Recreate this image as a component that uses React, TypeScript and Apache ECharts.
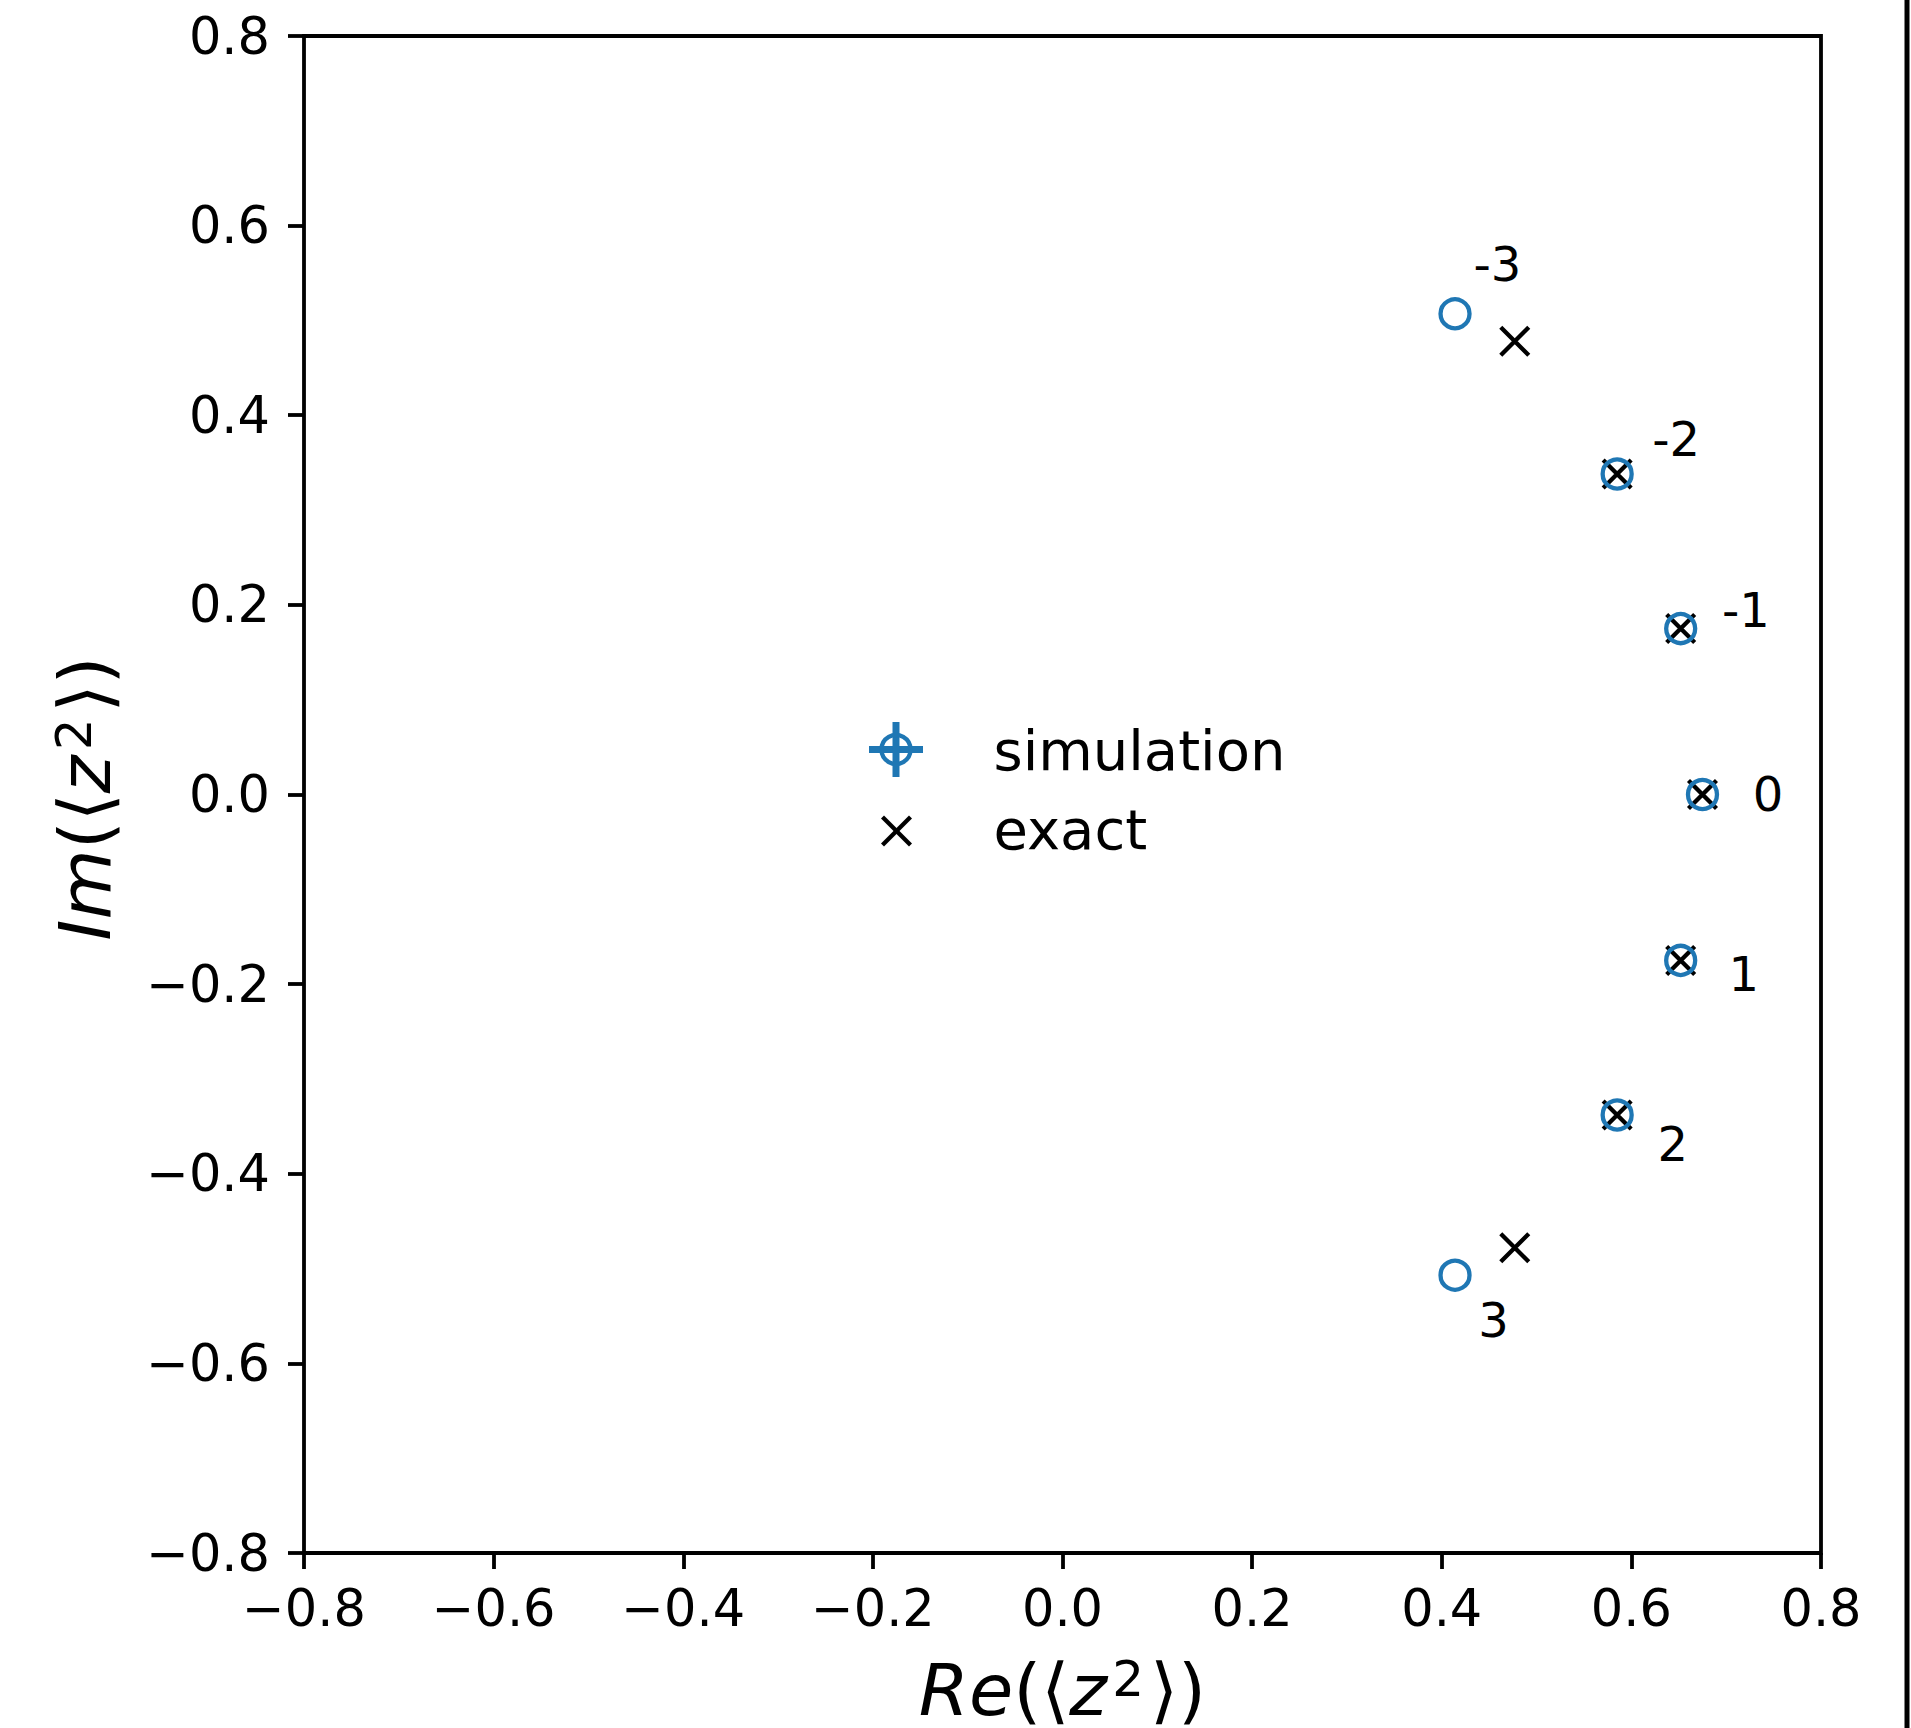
import React, { useEffect, useRef } from "react";
import * as echarts from "echarts";

const FONT = "DejaVu Sans";
const BLUE = "#1f77b4";

// index of each point (used as annotation text)
const pointIndex = [-3, -2, -1, 0, 1, 2, 3];
// simulation values
const simRe = [0.414, 0.585, 0.652, 0.675, 0.652, 0.585, 0.414];
const simIm = [0.507, 0.338, 0.175, 0.0, -0.175, -0.338, -0.507];
// exact values
const exactRe = [0.477, 0.585, 0.652, 0.675, 0.652, 0.585, 0.477];
const exactIm = [0.478, 0.338, 0.175, 0.0, -0.175, -0.338, -0.478];
// annotation anchor positions (data coords)
const labelRe = [0.434, 0.6225, 0.696, 0.7285, 0.703, 0.628, 0.439];
const labelIm = [0.559, 0.374, 0.1945, 0.0, -0.19, -0.369, -0.555];

const axisMin = -0.8;
const axisMax = 0.8;
const axisStep = 0.2;

const legendNames = ["simulation", "exact"];

const fmt = (v: number) => {
  const s = v.toFixed(1);
  if (s === "-0.0") return "0.0";
  return s.replace("-", "\u2212");
};

export default function App() {
  const ref = useRef<HTMLDivElement>(null);
  useEffect(() => {
    document.body.style.margin = "0";
    const chart = echarts.init(ref.current!, null, { renderer: "svg" });
    const axisCommon = {
      type: "value",
      min: axisMin,
      max: axisMax,
      interval: axisStep,
      axisLine: { show: false, onZero: false },
      axisTick: { show: true, inside: false, length: 16, lineStyle: { color: "#000", width: 3.8 } },
      splitLine: { show: false },
    };
    const nameRich = {
      i: { fontStyle: "italic", fontSize: 72, lineHeight: 72, fontFamily: FONT, color: "#000" },
      n: { fontSize: 72, lineHeight: 72, fontFamily: FONT, color: "#000" },
      s: {
        fontSize: 50,
        lineHeight: 32,
        verticalAlign: "top",
        fontFamily: FONT,
        color: "#000",
        padding: [0, 6, 0, 5],
      },
    };
    chart.setOption({
      animation: false,
      grid: {
        left: 304,
        top: 36,
        width: 1517,
        height: 1517,
        show: true,
        borderColor: "#000",
        borderWidth: 3.8,
        backgroundColor: "transparent",
      },
      xAxis: {
        ...axisCommon,
        axisLabel: { margin: 30, fontSize: 51, color: "#000", fontFamily: FONT, formatter: fmt },
      },
      yAxis: {
        ...axisCommon,
        axisLabel: { margin: 34, fontSize: 51, color: "#000", fontFamily: FONT, formatter: fmt },
      },
      series: [
        {
          name: legendNames[1],
          type: "scatter",
          silent: true,
          symbol: "path://M0,0L10,10M10,0L0,10",
          symbolSize: 28,
          itemStyle: { color: "transparent", borderColor: "#000", borderWidth: 4.3, opacity: 1 },
          data: exactRe.map((x, i) => [x, exactIm[i]]),
          z: 3,
        },
        {
          name: legendNames[0],
          type: "scatter",
          silent: true,
          symbol: "circle",
          symbolSize: 29,
          itemStyle: { color: "transparent", borderColor: BLUE, borderWidth: 4.3, opacity: 1 },
          data: simRe.map((x, i) => [x, simIm[i]]),
          z: 4,
        },
        {
          name: "labels",
          type: "scatter",
          silent: true,
          symbolSize: 1,
          itemStyle: { color: "#fff", opacity: 0 },
          data: labelRe.map((x, i) => [x, labelIm[i], String(pointIndex[i])]),
          label: {
            show: true,
            position: [0, 0],
            align: "left",
            verticalAlign: "middle",
            formatter: (p: any) => p.value[2],
            fontSize: 48,
            fontFamily: FONT,
            color: "#000",
            opacity: 1,
            textBorderWidth: 0,
          },
          z: 5,
        },
      ],
      graphic: [
        // legend: simulation
        {
          type: "line",
          silent: true,
          shape: { x1: 869, y1: 749.5, x2: 923, y2: 749.5 },
          style: { stroke: BLUE, lineWidth: 7 },
        },
        {
          type: "line",
          silent: true,
          shape: { x1: 896, y1: 722, x2: 896, y2: 777 },
          style: { stroke: BLUE, lineWidth: 7 },
        },
        {
          type: "circle",
          silent: true,
          shape: { cx: 896, cy: 749.5, r: 14.5 },
          style: { fill: "none", stroke: BLUE, lineWidth: 4.3 },
        },
        {
          type: "text",
          silent: true,
          x: 993.5,
          y: 750.6,
          style: { text: legendNames[0], fontSize: 56, fontFamily: FONT, fill: "#000", align: "left", verticalAlign: "middle" },
        },
        // legend: exact
        {
          type: "line",
          silent: true,
          shape: { x1: 882.5, y1: 817, x2: 910.5, y2: 845 },
          style: { stroke: "#000", lineWidth: 4.3 },
        },
        {
          type: "line",
          silent: true,
          shape: { x1: 910.5, y1: 817, x2: 882.5, y2: 845 },
          style: { stroke: "#000", lineWidth: 4.3 },
        },
        {
          type: "text",
          silent: true,
          x: 993.5,
          y: 829.6,
          style: { text: legendNames[1], fontSize: 56, fontFamily: FONT, fill: "#000", align: "left", verticalAlign: "middle" },
        },
        // axis names
        {
          type: "text",
          silent: true,
          x: 1062.5,
          y: 1690,
          style: {
            text: "{i|Re}{n|(\u27E8}{i|z}{s|2}{n|\u27E9)}",
            rich: nameRich,
            fill: "#000",
            align: "center",
            verticalAlign: "middle",
          },
        },
        {
          type: "text",
          silent: true,
          x: 85,
          y: 798.5,
          rotation: Math.PI / 2,
          style: {
            text: "{i|Im}{n|(\u27E8}{i|z}{s|2}{n|\u27E9)}",
            rich: nameRich,
            fill: "#000",
            align: "center",
            verticalAlign: "middle",
          },
        },
        // right edge black line
        {
          type: "line",
          silent: true,
          shape: { x1: 1907, y1: 0, x2: 1907, y2: 1728 },
          style: { stroke: "#000", lineWidth: 5 },
        },
      ],
    });
    return () => chart.dispose();
  }, []);
  return <div ref={ref} style={{ width: 1911, height: 1728 }} />;
}
